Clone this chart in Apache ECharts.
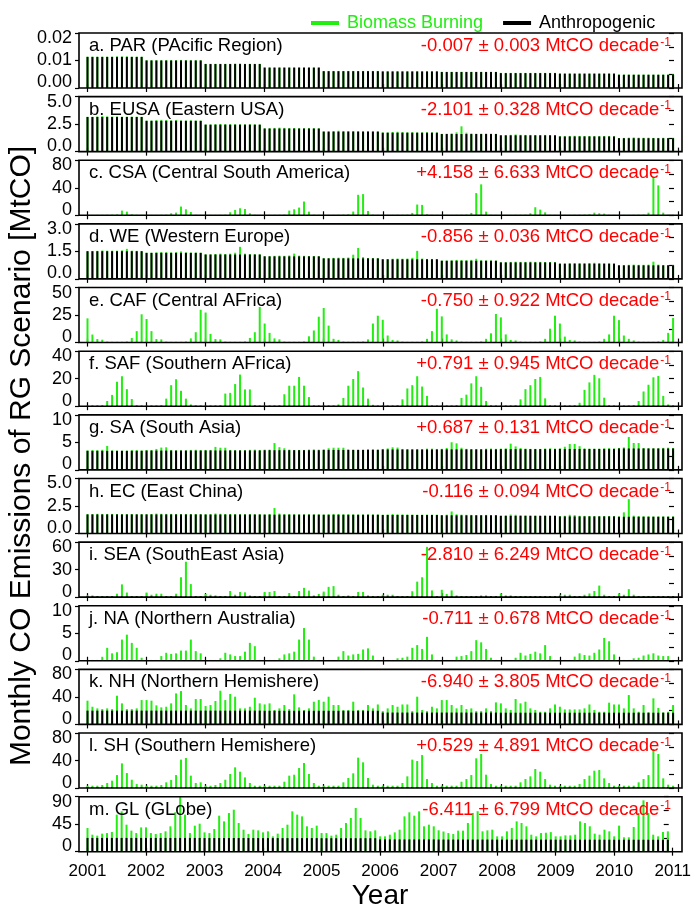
<!DOCTYPE html>
<html><head><meta charset="utf-8">
<script src="https://cdn.jsdelivr.net/npm/echarts@6/dist/echarts.min.js"></script>
<style>html,body{margin:0;padding:0;background:#fff}#c{width:694px;height:907px}</style>
</head><body><div id="c"></div>
<script>
const yearTicks = [2001,2002,2003,2004,2005,2006,2007,2008,2009,2010,2011];
const startYear = 2001;
const panelLabels = ['a. PAR (PAcific Region)','b. EUSA (Eastern USA)','c. CSA (Central South America)','d. WE (Western Europe)','e. CAF (Central AFrica)','f. SAF (Southern AFrica)','g. SA (South Asia)','h. EC (East China)','i. SEA (SouthEast Asia)','j. NA (Northern Australia)','k. NH (Northern Hemishere)','l. SH (Southern Hemishere)','m. GL (GLobe)'];
const trendTexts = ['-0.007 \u00b1 0.003','-2.101 \u00b1 0.328','+4.158 \u00b1 6.633','-0.856 \u00b1 0.036','-0.750 \u00b1 0.922','+0.791 \u00b1 0.945','+0.687 \u00b1 0.131','-0.116 \u00b1 0.094','-2.810 \u00b1 6.249','-0.711 \u00b1 0.678','-6.940 \u00b1 3.805','+0.529 \u00b1 4.891','-6.411 \u00b1 6.799'];
const yMax = [0.02,5,80,3,50,40,10,5,60,10,80,80,90];
const yStep = [0.01,2.5,40,1.5,25,20,5,2.5,30,5,40,40,45];
const yDecimals = [2,1,0,1,0,0,0,1,0,0,0,0,0];

// Anthropogenic emissions, one value per year 2001..2010
const anthroPAR = [0.0113,0.0100,0.0087,0.0074,0.0061,0.0060,0.0058,0.0054,0.0052,0.0048];
const anthroEUSA = [3.15,2.80,2.45,2.10,1.82,1.72,1.60,1.48,1.38,1.22];
const anthroCSA = [0.4,0.4,0.4,0.4,0.4,0.4,0.4,0.4,0.4,0.4];
const anthroWE = [1.51,1.42,1.33,1.23,1.12,1.07,0.99,0.90,0.83,0.74];
const anthroCAF = [0.4,0.4,0.4,0.4,0.4,0.4,0.4,0.4,0.4,0.4];
const anthroSAF = [0.3,0.3,0.3,0.3,0.3,0.3,0.3,0.3,0.3,0.3];
const anthroSA = [3.45,3.50,3.52,3.57,3.62,3.70,3.72,3.76,3.80,3.88];
const anthroEC = [1.73,1.73,1.72,1.71,1.70,1.68,1.65,1.60,1.55,1.52];
const anthroSEA = [0.8,0.8,0.8,0.8,0.8,0.8,0.8,0.8,0.8,0.8];
const anthroNA = [0.05,0.05,0.05,0.05,0.05,0.05,0.05,0.05,0.05,0.05];
const anthroNH = [20,20,20,19.8,19.8,17.2,17.2,17,17,17];
const anthroSH = [1.5,1.5,1.5,1.5,1.5,1.5,1.5,1.5,1.5,1.5];
const anthroGL = [22.5,22.5,22.3,22.2,22,20,19.8,19.7,19.6,19.5];

// Biomass burning emissions, monthly Jan 2001 .. Dec 2010
const bbPAR = [
0.0001,0.0001,0.0001,0.0001,0.0001,0.0001,0.0002,0.0002,0.0002,0.0001,0.0001,0.0001,
0.0001,0.0001,0.0001,0.0001,0.0001,0.0001,0.0001,0.0002,0.0001,0.0001,0.0001,0.0001,
0.0001,0.0001,0.0001,0.0001,0.0001,0.0001,0.0002,0.0002,0.0001,0.0001,0.0001,0.0001,
0.0001,0.0001,0.0001,0.0001,0.0001,0.0001,0.0001,0.0001,0.0001,0.0001,0.0001,0.0001,
0.0001,0.0001,0.0001,0.0001,0.0001,0.0001,0.0001,0.0001,0.0001,0.0001,0.0001,0.0001,
0.0001,0.0001,0.0001,0.0001,0.0001,0.0001,0.0001,0.0001,0.0001,0.0001,0.0001,0.0001,
0.0001,0.0001,0.0001,0.0001,0.0001,0.0001,0.0001,0.0001,0.0001,0.0001,0.0001,0.0001,
0.0001,0.0001,0.0001,0.0001,0.0001,0.0001,0.0001,0.0001,0.0001,0.0001,0.0001,0.0001,
0.0001,0.0001,0.0001,0.0001,0.0001,0.0001,0.0001,0.0001,0.0001,0.0001,0.0001,0.0001,
0.0001,0.0001,0.0001,0.0001,0.0001,0.0001,0.0001,0.0001,0.0001,0.0001,0.0001,0.0001];
const bbEUSA = [
0.02,0.02,0.05,0.08,0.06,0.04,0.05,0.03,0.03,0.04,0.03,0.02,
0.02,0.03,0.06,0.09,0.07,0.05,0.08,0.04,0.03,0.05,0.03,0.02,
0.02,0.02,0.05,0.07,0.05,0.04,0.04,0.03,0.03,0.04,0.03,0.02,
0.02,0.03,0.06,0.08,0.06,0.04,0.05,0.03,0.03,0.04,0.03,0.02,
0.02,0.02,0.05,0.08,0.05,0.05,0.06,0.04,0.03,0.04,0.03,0.02,
0.02,0.03,0.07,0.09,0.06,0.04,0.05,0.03,0.03,0.04,0.03,0.02,
0.02,0.03,0.06,0.15,0.70,0.12,0.05,0.03,0.03,0.04,0.03,0.02,
0.02,0.02,0.05,0.08,0.05,0.04,0.04,0.03,0.03,0.04,0.03,0.02,
0.02,0.02,0.05,0.06,0.05,0.04,0.04,0.03,0.03,0.04,0.03,0.02,
0.02,0.03,0.05,0.07,0.05,0.04,0.05,0.03,0.03,0.04,0.03,0.02];
const bbCSA = [
0.2,0.2,0.2,0.3,0.4,0.5,0.8,6.4,4.9,1.0,0.3,0.2,
0.2,0.2,0.2,0.3,0.5,2.5,3.5,12.3,8.3,4.4,0.4,0.2,
0.2,0.2,0.2,0.3,0.5,4.0,7.4,9.8,8.8,2.5,0.4,0.2,
0.2,0.2,0.2,0.3,0.5,6.4,8.3,10.8,19.6,4.9,0.4,0.2,
0.2,0.2,0.2,0.3,0.5,1.0,5.0,29.4,30.4,5.9,0.5,0.2,
0.2,0.2,0.2,0.3,0.4,0.5,3.0,15.2,14.7,1.0,0.3,0.2,
0.2,0.2,0.2,0.3,0.4,0.6,3.0,31.9,44.6,4.9,0.4,0.2,
0.2,0.2,0.2,0.3,0.4,0.5,2.5,11.3,7.8,3.9,0.3,0.2,
0.2,0.2,0.2,0.3,0.4,0.5,1.0,3.4,2.5,2.0,0.3,0.2,
0.2,0.2,0.2,0.3,0.4,0.6,3.4,55.4,43.1,3.4,0.4,0.2];
const bbWE = [
0.01,0.01,0.02,0.04,0.03,0.03,0.03,0.05,0.13,0.03,0.02,0.01,
0.01,0.01,0.03,0.05,0.04,0.03,0.04,0.08,0.03,0.02,0.02,0.01,
0.01,0.01,0.03,0.05,0.03,0.05,0.10,0.42,0.05,0.02,0.02,0.01,
0.01,0.01,0.03,0.04,0.03,0.05,0.15,0.04,0.03,0.02,0.02,0.01,
0.01,0.01,0.03,0.04,0.03,0.05,0.20,0.57,0.07,0.02,0.02,0.01,
0.01,0.01,0.03,0.04,0.03,0.04,0.08,0.46,0.04,0.02,0.02,0.01,
0.01,0.01,0.03,0.05,0.04,0.03,0.05,0.11,0.03,0.02,0.02,0.01,
0.01,0.01,0.03,0.04,0.03,0.03,0.04,0.03,0.03,0.02,0.02,0.01,
0.01,0.01,0.03,0.04,0.03,0.03,0.04,0.05,0.03,0.02,0.02,0.01,
0.01,0.01,0.03,0.04,0.03,0.03,0.04,0.20,0.04,0.02,0.02,0.01];
const bbCAF = [
21.6,6.9,2.8,2.2,0.5,0.3,0.3,0.3,0.6,3.8,10.0,25.3,
21.0,10.0,2.8,2.5,0.5,0.3,0.3,0.3,0.6,3.4,9.0,29.4,
26.9,7.5,2.8,2.5,0.5,0.3,0.3,0.3,0.6,3.8,9.0,31.9,
16.9,8.4,3.4,2.5,0.5,0.3,0.3,0.3,0.6,5.3,10.6,23.1,
31.0,15.0,3.0,2.0,0.5,0.3,0.3,0.3,0.6,2.5,16.9,24.0,
20.3,6.0,2.0,1.5,0.5,0.3,0.3,0.3,0.6,3.0,10.0,30.3,
23.4,7.0,2.5,1.5,0.5,0.3,0.3,0.3,0.6,3.0,8.0,25.6,
22.5,7.0,2.0,1.5,0.5,0.3,0.3,0.3,0.6,3.0,12.2,24.0,
16.9,5.0,2.0,1.5,0.5,0.3,0.3,0.3,0.6,3.0,7.0,24.0,
20.0,6.0,3.0,1.5,0.5,0.3,0.3,0.3,0.6,2.0,8.4,21.9];
const bbSAF = [
0.2,0.2,0.2,0.4,3.5,7.9,17.5,21.5,12.1,4.9,0.3,0.2,
0.2,0.2,0.2,0.4,5.2,15.0,19.3,10.9,5.2,1.0,0.3,0.2,
0.2,0.2,0.2,0.4,8.9,9.4,15.8,22.7,11.9,11.9,0.5,0.2,
0.2,0.2,0.2,0.4,8.4,14.6,14.6,21.0,14.6,6.4,0.3,0.2,
0.2,0.2,0.2,1.0,5.7,14.6,19.5,25.2,13.3,5.2,0.7,0.2,
0.2,0.2,0.2,0.4,4.7,12.6,15.0,21.5,14.0,7.2,0.3,0.2,
0.2,0.2,0.2,0.4,5.7,8.1,16.3,21.5,13.8,3.5,0.3,0.2,
0.2,0.2,0.2,0.4,4.7,12.1,15.0,19.5,21.0,5.4,0.3,0.2,
0.2,0.2,0.2,0.4,2.2,11.6,17.0,22.5,20.0,5.9,0.3,0.2,
0.2,0.2,0.2,0.4,3.5,10.4,15.3,20.7,21.7,7.2,1.0,0.2];
const bbSA = [
0.10,0.15,0.15,0.20,0.90,0.10,0.05,0.05,0.05,0.15,0.15,0.10,
0.10,0.10,0.30,0.55,0.60,0.10,0.05,0.05,0.05,0.12,0.15,0.10,
0.10,0.10,0.65,0.50,0.50,0.10,0.05,0.05,0.05,0.12,0.15,0.10,
0.10,0.10,1.30,0.55,0.35,0.10,0.05,0.05,0.05,0.12,0.15,0.10,
0.10,0.30,0.40,0.40,0.40,0.10,0.05,0.05,0.05,0.15,0.15,0.10,
0.10,0.20,0.40,0.35,0.10,0.05,0.05,0.05,0.05,0.15,0.15,0.10,
0.10,0.25,1.30,1.10,0.30,0.10,0.05,0.05,0.05,0.12,0.15,0.10,
0.10,0.15,1.00,0.50,0.20,0.10,0.05,0.05,0.05,0.12,0.15,0.10,
0.10,0.40,0.90,0.90,0.50,0.10,0.05,0.05,0.05,0.12,0.15,0.10,
0.10,0.20,2.10,1.00,1.00,0.10,0.05,0.05,0.05,0.12,0.15,0.10];
const bbEC = [
0.03,0.04,0.06,0.05,0.05,0.05,0.04,0.03,0.03,0.04,0.03,0.03,
0.03,0.04,0.08,0.06,0.05,0.05,0.04,0.03,0.03,0.04,0.03,0.03,
0.03,0.04,0.10,0.07,0.05,0.05,0.04,0.03,0.03,0.04,0.03,0.03,
0.03,0.06,0.60,0.10,0.05,0.05,0.04,0.03,0.03,0.04,0.03,0.03,
0.03,0.05,0.08,0.07,0.05,0.05,0.04,0.03,0.03,0.04,0.03,0.03,
0.03,0.05,0.10,0.07,0.06,0.05,0.04,0.03,0.03,0.04,0.03,0.03,
0.03,0.06,0.35,0.10,0.06,0.05,0.04,0.03,0.03,0.04,0.03,0.03,
0.03,0.05,0.12,0.10,0.06,0.05,0.04,0.03,0.03,0.04,0.03,0.03,
0.03,0.06,0.15,0.12,0.06,0.05,0.04,0.03,0.03,0.04,0.03,0.03,
0.03,0.40,1.60,0.10,0.06,0.05,0.04,0.03,0.03,0.04,0.03,0.03];
const bbSEA = [
1.1,1.1,0.4,0.4,0.4,0.4,2.9,13.1,4.2,0.4,0.4,0.4,
4.2,1.8,2.9,2.9,0.4,0.4,2.9,20.9,37.8,13.4,0.4,0.4,
2.6,1.8,1.1,0.4,0.4,5.9,1.8,4.8,4.4,1.1,0.4,0.4,
4.8,4.8,5.9,0.4,0.4,3.7,0.4,5.9,9.3,6.3,1.1,2.6,
5.2,10.4,11.2,1.8,0.4,1.1,0.4,4.8,4.8,1.1,0.4,0.4,
1.8,1.8,1.8,0.4,0.4,0.4,5.6,16.1,20.9,54.0,6.5,0.4,
7.2,2.6,6.5,1.1,0.4,0.4,0.4,0.4,1.1,1.1,0.4,0.4,
3.2,1.1,1.1,0.4,0.4,0.4,0.4,0.4,0.4,0.4,0.4,0.4,
1.8,1.8,1.8,0.4,0.4,1.8,3.2,5.9,11.8,1.8,0.4,0.4,
3.2,1.8,7.9,1.8,0.4,0.4,0.4,0.4,0.4,0.4,0.4,0.4];
const bbNA = [
0.1,0.1,0.1,0.67,2.3,1.3,1.5,3.8,4.7,3.2,2.3,0.5,
0.1,0.1,0.1,0.8,1.4,1.2,1.3,1.8,1.8,3.8,1.7,1.3,
0.1,0.1,0.1,0.4,1.4,1.1,0.8,0.8,1.6,3.2,2.6,0.1,
0.1,0.1,0.1,0.4,1.1,1.3,1.6,3.8,5.9,3.8,0.7,0.1,
0.1,0.1,0.1,0.7,1.7,0.9,1.1,1.2,2.0,2.2,0.9,0.1,
0.1,0.1,0.1,0.4,0.5,0.7,2.3,2.8,2.1,4.3,1.1,0.1,
0.1,0.1,0.1,0.7,0.8,1.0,1.7,3.7,3.3,2.1,0.5,0.1,
0.1,0.1,0.1,0.5,1.4,0.9,1.2,1.6,1.3,2.8,0.8,0.1,
0.1,0.1,0.1,0.7,1.3,1.0,0.9,1.4,2.0,4.1,3.5,1.1,
0.1,0.1,0.1,0.4,0.5,0.9,1.1,1.3,0.9,0.8,0.8,0.1];
const bbNH = [
14.5,5.7,3.3,2.3,3.3,2.3,21.7,10.6,2.3,2.3,3.3,15.4,
15.4,14.5,7.7,4.8,5.7,10.6,25.1,28.5,8.2,3.3,16.9,16.9,
6.7,8.2,14.0,29.0,15.4,24.2,20.3,3.3,3.3,5.7,18.8,10.6,
9.3,10.8,1.1,3.5,8.4,2.5,23.9,5.0,1.1,3.5,13.2,15.6,
13.2,20.5,8.4,8.4,1.2,1.2,13.2,1.2,1.2,8.4,3.5,9.2,
2.2,6.1,11.0,8.5,11.8,11.8,2.2,23.1,3.8,2.2,8.5,6.1,
18.2,18.2,11.0,6.1,11.0,5.1,6.1,2.2,2.2,6.1,2.2,14.8,
13.6,6.3,4.0,19.9,13.6,16.0,6.3,4.0,1.4,1.4,6.3,12.0,
8.7,4.8,4.8,4.8,4.8,6.3,12.0,4.0,1.4,1.4,14.6,12.0,
12.0,6.3,25.7,6.3,1.4,11.2,0.5,20.9,7.0,0.5,1.4,11.2];
const bbSH = [
1.9,1.9,1.9,2.9,5.8,9.2,17.4,34.4,20.3,10.6,4.3,3.4,
1.9,1.9,1.9,2.9,6.8,10.2,17.4,39.8,42.2,16.5,5.8,6.8,
1.9,1.9,2.9,5.8,10.6,18.9,28.6,22.3,14.0,5.8,1.9,1.9,
1.9,1.9,1.9,1.9,7.7,16.5,17.9,27.6,34.9,18.9,5.8,1.9,
1.9,1.9,1.9,1.9,6.8,13.1,19.9,42.7,35.9,13.1,3.4,1.9,
1.9,1.9,1.9,1.9,5.8,15.5,39.8,37.8,46.5,11.6,5.8,1.9,
1.9,1.9,1.9,1.9,7.7,11.6,17.4,41.7,48.0,17.9,4.3,1.9,
1.9,1.9,1.9,1.9,6.8,11.6,15.5,26.2,22.3,11.6,3.4,1.9,
1.9,1.9,1.9,1.9,4.3,11.6,16.5,23.7,24.7,12.6,5.8,1.9,
1.9,1.9,1.9,1.9,6.8,11.6,17.4,55.3,48.0,12.6,3.4,1.9];
const bbGL = [
16.2,5.3,3.7,7.0,8.0,9.7,38.1,43.5,21.7,11.9,8.0,17.3,
17.3,8.0,6.4,8.0,10.8,19.0,41.9,67.0,38.1,8.0,20.1,23.3,
9.3,8.2,14.8,36.6,27.3,41.0,46.4,24.6,13.7,6.6,13.7,12.6,
9.4,11.1,2.9,7.3,16.5,22.0,43.8,38.4,35.6,19.3,16.5,20.4,
8.5,8.5,4.2,5.8,16.7,24.9,33.1,49.5,33.1,12.9,11.3,12.9,
5.1,5.1,7.8,11.6,16.0,37.8,44.4,38.9,46.0,21.5,24.2,21.5,
15.2,13.2,10.7,9.1,14.6,14.6,27.1,43.6,46.4,13.5,15.1,16.2,
5.4,5.4,13.6,19.0,29.9,27.2,21.8,8.1,5.4,10.8,11.3,12.3,
5.5,5.5,7.1,7.1,8.2,30.0,27.3,21.9,9.9,8.2,16.4,13.7,
5.6,23.1,4.0,4.0,20.9,43.8,64.5,43.8,8.3,5.6,12.7,13.8];

const anthroList = [anthroPAR,anthroEUSA,anthroCSA,anthroWE,anthroCAF,anthroSAF,anthroSA,anthroEC,anthroSEA,anthroNA,anthroNH,anthroSH,anthroGL];
const bbList = [bbPAR,bbEUSA,bbCSA,bbWE,bbCAF,bbSAF,bbSA,bbEC,bbSEA,bbNA,bbNH,bbSH,bbGL];

const FONT = 'Liberation Sans, Arial, Helvetica, sans-serif';
const GREEN = '#22ee11';
const TOP0 = 33, STEP = 63.64, PH = 55;
const GL = 87.5, GR = 678, FL = 79, FR = 682;
const labStyle = {fontSize: 18, fontFamily: FONT, color: '#000'};

const grids = [], xAxes = [], yAxes = [], series = [], graphics = [];
for (let i = 0; i < 13; i++) {
  const top = TOP0 + i * STEP;
  grids.push({left: GL, width: GR - GL, top: top, height: PH, containLabel: false});
  const last = i === 12;
  xAxes.push({gridIndex: i, type: 'value', min: 2001, max: 2011, interval: 1, position: 'bottom',
    axisLine: {show: false}, splitLine: {show: false},
    axisTick: {show: true, inside: false, length: 4, lineStyle: {color: '#000', width: 1.2}},
    axisLabel: {show: last, margin: 11, fontSize: 17, fontFamily: FONT, color: '#000', formatter: v => String(Math.round(v))}});
  xAxes.push({gridIndex: i, type: 'value', min: 2001, max: 2011, interval: 1, position: 'top',
    axisLine: {show: false}, splitLine: {show: false}, axisLabel: {show: false},
    axisTick: {show: true, inside: false, length: 4, lineStyle: {color: '#000', width: 1.2}}});
  const dec = yDecimals[i];
  const ymax = yMax[i];
  yAxes.push({gridIndex: i, type: 'value', min: 0, max: ymax, interval: yStep[i], position: 'left', offset: GL - FL,
    axisLine: {show: false}, splitLine: {show: false},
    axisTick: {show: true, inside: false, length: 4, lineStyle: {color: '#000', width: 1.2}},
    axisLabel: {margin: 7, fontSize: 18, fontFamily: FONT, color: '#000',
      formatter: v => {
        const t = v.toFixed(dec);
        if (Math.abs(v) < 1e-12) return '{lo|' + t + '}';
        if (Math.abs(v - ymax) < 1e-9) return '{hi|' + t + '}';
        return t;
      },
      rich: {lo: Object.assign({padding: [0, 0, 11, 0]}, labStyle), hi: Object.assign({padding: [10, 0, 0, 0]}, labStyle)}}});
  yAxes.push({gridIndex: i, type: 'value', min: 0, max: ymax, interval: yStep[i] / 2, position: 'right', offset: -(FR - GR),
    axisLine: {show: false}, splitLine: {show: false}, axisLabel: {show: false},
    axisTick: {show: true, inside: true, length: 5, lineStyle: {color: '#000', width: 1.2}}});
  // green bar shows anthropogenic + biomass (top segment), black bar drawn over it shows anthropogenic
  const anthroMonthly = [], totalMonthly = [];
  for (let m = 0; m < 120; m++) {
    const x = startYear + m / 12;
    const a = anthroList[i][Math.floor(m / 12)];
    anthroMonthly.push([x, a]);
    totalMonthly.push([x, a + bbList[i][m]]);
  }
  series.push({type: 'bar', name: 'Biomass Burning', xAxisIndex: 2 * i, yAxisIndex: 2 * i,
    data: totalMonthly, barWidth: 2, barGap: '-100%', clip: false, itemStyle: {color: GREEN}, animation: false, silent: true, z: 2});
  series.push({type: 'bar', name: 'Anthropogenic', xAxisIndex: 2 * i, yAxisIndex: 2 * i,
    data: anthroMonthly, barWidth: 2, barGap: '-100%', clip: false, itemStyle: {color: '#000'}, animation: false, silent: true, z: 3});
  graphics.push({type: 'rect', shape: {x: FL, y: top, width: FR - FL, height: PH}, style: {fill: 'none', stroke: '#000', lineWidth: 1.6}, z: 100, silent: true});
  graphics.push({type: 'text', x: FL + 10, y: top + 13, style: {text: panelLabels[i], font: '18.5px ' + FONT, fill: '#000', align: 'left', verticalAlign: 'middle'}, z: 101});
  graphics.push({type: 'text', x: FR - 11, y: top + 13, style: {
    text: '{m|' + trendTexts[i] + ' MtCO decade}{s|-1}', align: 'right', verticalAlign: 'middle',
    rich: {m: {fontSize: 18.5, fontFamily: FONT, fill: '#ff0000', color: '#ff0000'},
           s: {fontSize: 12, fontFamily: FONT, fill: '#ff0000', color: '#ff0000', verticalAlign: 'top', padding: [0, 0, 6, 1]}}}, z: 101});
}
graphics.push({type: 'text', x: 22, y: 456, rotation: Math.PI / 2, style: {text: 'Monthly CO Emissions of RG Scenario [MtCO]', font: '30px ' + FONT, fill: '#000', align: 'center', verticalAlign: 'middle'}});
graphics.push({type: 'text', x: 380, y: 896, style: {text: 'Year', font: '28px ' + FONT, fill: '#000', align: 'center', verticalAlign: 'middle'}});

const chart = echarts.init(document.getElementById('c'), null, {renderer: 'canvas'});
chart.setOption({
  animation: false,
  backgroundColor: '#fff',
  legend: {top: 9, left: 306, itemWidth: 28, itemHeight: 4, itemGap: 20, icon: 'rect', selectedMode: false,
    textStyle: {fontSize: 18, fontFamily: FONT, padding: [0, 0, 0, 3]},
    data: [{name: 'Biomass Burning', textStyle: {color: GREEN}}, {name: 'Anthropogenic', textStyle: {color: '#000'}}]},
  grid: grids, xAxis: xAxes, yAxis: yAxes, series: series, graphic: graphics
});
</script></body></html>
